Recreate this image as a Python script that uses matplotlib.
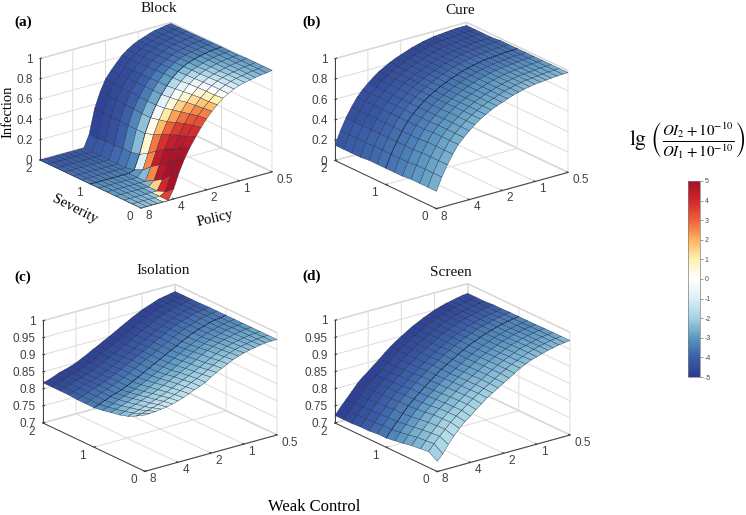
import numpy as np
import matplotlib
matplotlib.use("Agg")
import matplotlib.pyplot as plt
from matplotlib.cm import ScalarMappable
from matplotlib.colors import LinearSegmentedColormap, Normalize
from mpl_toolkits.mplot3d import proj3d

plt.rcParams['mathtext.fontset'] = 'stix'
plt.rcParams['font.family'] = 'Liberation Sans'
plt.rcParams['axes.unicode_minus'] = False

POLICY = [8, 7.13, 6.35, 5.66, 5.04, 4.49, 4, 3.56, 3.17, 2.83, 2.52, 2.24, 2, 1.78, 1.59, 1.41, 1.26, 1.12, 1, 0.89, 0.79, 0.71, 0.63, 0.56, 0.5]
SEVERITY = [0, 0.17, 0.33, 0.5, 0.67, 0.83, 1, 1.17, 1.33, 1.5, 1.67, 1.83, 2]
POLICY_TICKS = [8, 4, 2, 1, 0.5]
POLICY_LABELS = ['8', '4', '2', '1', '0.5']
SEVERITY_TICKS = [0, 1, 2]
SEVERITY_LABELS = ['0', '1', '2']
Z_TICKS_TOP = [0, 0.2, 0.4, 0.6, 0.8, 1]
Z_LABELS_TOP = ['0', '0.2', '0.4', '0.6', '0.8', '1']
Z_TICKS_BOTTOM = [0.7, 0.75, 0.8, 0.85, 0.9, 0.95, 1]
Z_LABELS_BOTTOM = ['0.7', '0.75', '0.8', '0.85', '0.9', '0.95', '1']
CBAR_TICKS = [5, 4, 3, 2, 1, 0, -1, -2, -3, -4, -5]

# infection, one row per severity, one column per policy
BLOCK_Z = [
    [0, 0, 0, 0, 0, 0, .10, .25, .37, .465, .55, .63, .70, .76, .81, .86, .89, .92, .94, .955, .965, .975, .985, .99, 1],
    [0, 0, 0, 0, 0, 0, .03, .18, .31, .42, .52, .61, .69, .75, .80, .85, .89, .92, .94, .955, .965, .975, .985, .99, 1],
    [0, 0, 0, 0, 0, 0, 0, .10, .25, .37, .49, .59, .67, .74, .80, .85, .89, .92, .94, .955, .965, .975, .985, .99, 1],
    [0, 0, 0, 0, 0, 0, 0, .05, .19, .33, .46, .56, .65, .73, .79, .845, .885, .915, .935, .95, .965, .975, .985, .99, 1],
    [0, 0, 0, 0, 0, 0, 0, 0, .13, .27, .42, .53, .63, .71, .78, .84, .88, .91, .935, .95, .965, .975, .985, .99, .995],
    [0, 0, 0, 0, 0, 0, 0, 0, .06, .21, .38, .51, .61, .70, .77, .83, .875, .91, .93, .95, .965, .975, .985, .99, .995],
    [0, 0, 0, 0, 0, 0, 0, 0, .02, .16, .35, .49, .60, .69, .76, .825, .87, .905, .93, .95, .965, .975, .985, .99, .995],
    [0, 0, 0, 0, 0, 0, 0, 0, 0, .14, .35, .49, .60, .69, .76, .825, .87, .905, .93, .95, .963, .973, .983, .988, .994],
    [0, 0, 0, 0, 0, 0, 0, 0, 0, .14, .35, .50, .60, .69, .755, .82, .865, .90, .925, .948, .96, .971, .981, .987, .993],
    [0, 0, 0, 0, 0, 0, 0, 0, 0, .13, .355, .50, .61, .69, .755, .815, .86, .895, .92, .945, .958, .97, .98, .986, .992],
    [0, 0, 0, 0, 0, 0, 0, 0, 0, .13, .355, .505, .61, .69, .75, .81, .855, .89, .915, .94, .955, .968, .978, .985, .991],
    [0, 0, 0, 0, 0, 0, 0, 0, 0, .12, .36, .51, .62, .69, .75, .81, .85, .885, .91, .935, .952, .966, .976, .985, .99],
    [0, 0, 0, 0, 0, 0, 0, 0, 0, .12, .36, .51, .62, .69, .75, .81, .85, .885, .91, .93, .95, .965, .975, .985, .99],
]
CURE_FRONT = [.17, .295, .40, .49, .57, .625, .675, .72, .76, .79, .82, .845, .865, .885, .905, .92, .935, .945, .955, .96, .965, .97, .975, .978, .98]
CURE_MID = [.16, .285, .39, .48, .56, .62, .67, .715, .755, .785, .815, .84, .865, .885, .905, .92, .935, .945, .955, .96, .965, .97, .975, .975, .98]
CURE_BACK = [.15, .28, .39, .48, .56, .62, .67, .715, .755, .785, .815, .84, .86, .88, .90, .915, .93, .94, .95, .955, .96, .965, .97, .97, .97]
CURE_Z = [CURE_FRONT] * 4 + [CURE_MID] * 5 + [CURE_BACK] * 4
ISOLATION_S2 = [.818, .822, .828, .835, .839, .844, .85, .858, .866, .875, .883, .892, .90, .909, .918, .927, .936, .944, .952, .958, .964, .97, .973, .976, .979]
ISOLATION_S1 = [.816, .821, .828, .835, .84, .846, .853, .861, .869, .878, .887, .896, .904, .913, .922, .93, .939, .947, .955, .961, .966, .972, .975, .977, .98]
ISOLATION_Z = [
    [.865, .866, .867, .869, .871, .875, .88, .885, .892, .899, .905, .912, .923, .932, .94, .948, .956, .962, .967, .971, .974, .977, .979, .98, .98],
    [.85, .853, .857, .861, .866, .871, .876, .882, .889, .896, .904, .911, .919, .928, .937, .946, .953, .96, .965, .97, .973, .976, .978, .98, .98],
    [.838, .843, .848, .853, .859, .865, .871, .878, .885, .893, .90, .908, .916, .924, .933, .942, .95, .957, .963, .968, .971, .975, .977, .979, .98],
    [.83, .836, .842, .848, .854, .86, .866, .873, .881, .889, .897, .905, .913, .921, .93, .94, .948, .955, .961, .966, .97, .974, .977, .979, .98],
    [.825, .83, .836, .842, .848, .854, .86, .868, .876, .884, .892, .90, .909, .918, .926, .936, .944, .951, .958, .963, .968, .973, .976, .978, .98],
    [.82, .825, .831, .838, .844, .85, .856, .864, .872, .881, .889, .898, .906, .915, .924, .933, .941, .949, .956, .962, .967, .972, .975, .978, .98],
    ISOLATION_S1, ISOLATION_S1, ISOLATION_S1,
    ISOLATION_S2, ISOLATION_S2, ISOLATION_S2, ISOLATION_S2,
]
SCREEN_S1 = [.727, .747, .766, .785, .803, .818, .832, .846, .859, .871, .883, .893, .903, .913, .922, .931, .938, .945, .952, .957, .962, .966, .97, .973, .975]
SCREEN_MID = [.724, .744, .763, .782, .80, .815, .828, .842, .855, .868, .88, .891, .901, .911, .921, .93, .937, .944, .951, .956, .961, .965, .968, .971, .974]
SCREEN_S2 = [.722, .742, .76, .778, .797, .812, .824, .838, .851, .865, .878, .89, .90, .91, .92, .928, .936, .943, .95, .955, .96, .963, .967, .97, .972]
SCREEN_Z = [
    [.73, .747, .77, .79, .808, .824, .835, .85, .862, .875, .885, .895, .905, .915, .925, .935, .943, .95, .955, .96, .965, .968, .972, .974, .976],
    [.746, .765, .782, .798, .814, .828, .84, .853, .865, .876, .886, .896, .906, .916, .925, .934, .941, .948, .955, .96, .965, .968, .972, .974, .976],
    [.743, .762, .78, .797, .813, .827, .839, .852, .864, .875, .886, .896, .906, .916, .925, .934, .941, .948, .955, .96, .964, .968, .972, .974, .976],
    [.74, .76, .777, .795, .812, .826, .838, .851, .863, .875, .885, .895, .905, .915, .924, .933, .94, .947, .954, .959, .964, .968, .971, .974, .976],
    [.735, .755, .773, .791, .808, .822, .836, .849, .861, .873, .884, .894, .904, .914, .923, .932, .939, .946, .953, .958, .963, .967, .971, .973, .975],
    [.731, .751, .77, .788, .805, .82, .834, .847, .86, .872, .883, .893, .903, .913, .922, .931, .938, .945, .952, .957, .962, .966, .97, .973, .975],
    SCREEN_S1, SCREEN_S1, SCREEN_MID, SCREEN_MID, SCREEN_S2, SCREEN_S2, SCREEN_S2,
]

# colour value lg(...), one row per severity strip, one column per policy strip
BLOCK_C = [
    [-2.3, -2.3, -2.3, -2.2, 0.5, 3.5, 4.9, 4.9, 4.8, 4.4, 3.9, 3.3, 2.6, 1.8, 1.0, 0.1, -0.7, -1.2, -1.6, -1.9, -2.2, -2.4, -2.6, -2.7],
    [-2.5, -2.5, -2.5, -2.4, -2.2, 1.0, 4.0, 4.9, 4.8, 4.5, 3.9, 3.2, 2.5, 1.7, 0.9, 0.0, -0.8, -1.3, -1.7, -2.0, -2.3, -2.5, -2.6, -2.8],
    [-2.7, -2.7, -2.7, -2.7, -2.7, -2.4, 1.5, 4.6, 4.7, 4.3, 3.6, 2.8, 2.1, 1.3, 0.5, -0.3, -1.0, -1.5, -1.9, -2.2, -2.4, -2.6, -2.7, -2.9],
    [-2.9, -2.9, -2.9, -2.9, -2.9, -2.9, -2.5, 2.5, 4.3, 3.8, 3.0, 2.2, 1.5, 0.7, 0.0, -0.7, -1.3, -1.8, -2.1, -2.4, -2.6, -2.7, -2.9, -3.0],
    [-3.0, -3.0, -3.0, -3.0, -3.0, -3.0, -2.8, -2.4, 2.5, 2.7, 1.9, 1.1, 0.5, -0.2, -0.8, -1.3, -1.8, -2.2, -2.4, -2.6, -2.8, -2.9, -3.0, -3.1],
    [-3.2, -3.2, -3.2, -3.2, -3.2, -3.2, -3.2, -3.0, -1.0, 0.6, 0.3, -0.3, -0.8, -1.3, -1.7, -2.1, -2.4, -2.6, -2.8, -2.9, -3.0, -3.1, -3.2, -3.3],
    [-3.4, -3.4, -3.4, -3.4, -3.4, -3.4, -3.4, -3.4, -3.3, -2.4, -2.3, -2.5, -2.7, -2.8, -2.9, -3.0, -3.1, -3.2, -3.3, -3.3, -3.4, -3.4, -3.5, -3.5],
    [-3.6, -3.6, -3.6, -3.6, -3.6, -3.6, -3.6, -3.6, -3.6, -3.3, -3.3, -3.4, -3.5, -3.5, -3.5, -3.6, -3.6, -3.6, -3.6, -3.6, -3.6, -3.6, -3.7, -3.7],
    [-3.7, -3.7, -3.7, -3.7, -3.7, -3.7, -3.7, -3.7, -3.8, -4.0, -4.0, -4.0, -4.0, -4.0, -3.9, -3.9, -3.9, -3.9, -3.8, -3.8, -3.8, -3.8, -3.8, -3.8],
    [-3.9, -3.9, -3.9, -3.9, -3.9, -3.9, -3.9, -3.9, -4.0, -4.4, -4.4, -4.4, -4.3, -4.3, -4.2, -4.2, -4.1, -4.1, -4.0, -4.0, -4.0, -3.9, -3.9, -3.9],
    [-4.0, -4.0, -4.0, -4.0, -4.0, -4.0, -4.0, -4.0, -4.1, -4.6, -4.6, -4.6, -4.5, -4.5, -4.4, -4.3, -4.3, -4.2, -4.2, -4.1, -4.1, -4.0, -4.0, -4.0],
    [-4.1, -4.1, -4.1, -4.1, -4.1, -4.1, -4.1, -4.1, -4.2, -4.7, -4.7, -4.7, -4.6, -4.5, -4.5, -4.4, -4.4, -4.3, -4.3, -4.2, -4.2, -4.1, -4.1, -4.0],
]
CURE_C = [
    [-2.6] * 16 + [-2.5] * 8,
    [-2.8] * 16 + [-2.7] * 8,
    [-3.0] * 14 + [-2.9] * 10,
    [-3.2] * 12 + [-3.1] * 12,
    [-3.4] * 24,
    [-3.6] * 24,
    [-3.7] * 24,
    [-3.8] * 2 + [-3.9] * 22,
    [-3.9] * 2 + [-4.0] * 6 + [-4.1] * 10 + [-4.0] * 6,
    [-4.0] * 2 + [-4.2] * 20 + [-4.1] * 2,
    [-4.1] * 2 + [-4.3] * 4 + [-4.4] * 12 + [-4.3] * 6,
    [-4.2] * 2 + [-4.4] * 4 + [-4.6] * 12 + [-4.4] * 6,
]
ISOLATION_C = [
    [-1.7, -1.5, -1.4, -1.3, -1.3, -1.4, -1.5, -1.6, -1.6, -1.7, -1.8, -1.8, -1.9, -2.0, -2.0, -2.1, -2.2, -2.3, -2.3, -2.4, -2.4, -2.5, -2.5, -2.5],
    [-2.0, -1.8, -1.7, -1.6, -1.6, -1.7, -1.8, -1.8, -1.9, -1.9, -2.0, -2.1, -2.1, -2.2, -2.3, -2.3, -2.4, -2.4, -2.5, -2.5, -2.6, -2.6, -2.6, -2.7],
    [-2.3, -2.1, -2.0, -2.0, -2.0, -2.0, -2.1, -2.1, -2.2, -2.2, -2.3, -2.3, -2.4, -2.4, -2.5, -2.5, -2.6, -2.6, -2.7, -2.7, -2.7, -2.8, -2.8, -2.8],
    [-2.6, -2.4, -2.3, -2.3, -2.3, -2.3, -2.4, -2.4, -2.5, -2.5, -2.6, -2.6, -2.6, -2.7, -2.7, -2.8, -2.8, -2.8, -2.9, -2.9, -2.9, -3.0, -3.0, -3.0],
    [-2.9, -2.8, -2.7, -2.7, -2.7, -2.7, -2.7, -2.7, -2.8, -2.8, -2.8, -2.9, -2.9, -2.9, -3.0, -3.0, -3.0, -3.1, -3.1, -3.1, -3.2, -3.2, -3.2, -3.2],
    [-3.2] * 6 + [-3.1] * 6 + [-3.2] * 6 + [-3.3] * 6,
    [-3.5] * 4 + [-3.4] * 8 + [-3.5] * 12,
    [-3.7] * 24,
    [-4.0] * 24,
    [-4.2] * 24,
    [-4.5] * 24,
    [-4.7] * 20 + [-4.6] * 4,
]
SCREEN_C = [
    [-2.0, -1.8, -1.7, -1.7, -1.8, -1.9, -1.9, -2.0, -2.0, -2.1, -2.1, -2.2, -2.2, -2.3, -2.3, -2.3, -2.4, -2.4, -2.4, -2.5, -2.5, -2.5, -2.5, -2.5],
    [-2.2, -2.1, -2.0, -2.0, -2.0, -2.1, -2.1, -2.2, -2.2, -2.3, -2.3, -2.4, -2.4, -2.5, -2.5, -2.5, -2.6, -2.6, -2.6, -2.7, -2.7, -2.7, -2.7, -2.7],
    [-2.5, -2.4, -2.3, -2.3, -2.3, -2.4, -2.4, -2.4, -2.5, -2.5, -2.5, -2.6, -2.6, -2.6, -2.7, -2.7, -2.7, -2.8, -2.8, -2.8, -2.9, -2.9, -2.9, -2.9],
    [-2.7, -2.6, -2.6, -2.6, -2.6, -2.6, -2.6, -2.6, -2.7, -2.7, -2.7, -2.8, -2.8, -2.8, -2.9, -2.9, -2.9, -3.0, -3.0, -3.0, -3.0, -3.1, -3.1, -3.1],
    [-3.0, -2.9, -2.9, -2.9, -2.9, -2.9, -2.9, -2.9, -2.9, -3.0, -3.0, -3.0, -3.0, -3.1, -3.1, -3.1, -3.1, -3.2, -3.2, -3.2, -3.2, -3.3, -3.3, -3.3],
    [-3.3] * 24,
    [-3.6] * 2 + [-3.5] * 22,
    [-3.8] * 24,
    [-4.1] * 2 + [-4.0] * 22,
    [-4.3] * 24,
    [-4.6] * 6 + [-4.5] * 14 + [-4.4] * 4,
    [-4.8] * 6 + [-4.7] * 14 + [-4.5] * 4,
]

cmap = LinearSegmentedColormap.from_list('lg', [
    '#2b3a8f', '#3b5fa8', '#5b98c2', '#a3d3e3', '#dcf0f5', '#ffffff',
    '#fdf3b0', '#fdb45f', '#ee6238', '#d2262c', '#a50f26'])
norm = Normalize(-5, 5)

W, H = 746, 515
fig = plt.figure(figsize=(W / 100, H / 100), dpi=100)

xpos = np.log2(8 / np.array(POLICY))
ypos = np.array(SEVERITY)
X, Y = np.meshgrid(xpos, ypos)


def panel(Z, C, zlim, zticks, zlabels, title, tag, left, right, title_xy, tag_xy):
    ax = fig.add_axes([0.1, 0.1, 0.4, 0.4 * W / H], projection='3d')
    ax.set_proj_type('ortho')
    ax.view_init(elev=21.2, azim=-127.3)
    ax.set_box_aspect((165, 167, 109))
    ax.computed_zorder = False
    ax.patch.set_alpha(0)

    Z = np.array(Z)
    ax.plot_surface(X, Y, Z, facecolors=cmap(norm(np.array(C))), rstride=1, cstride=1,
                    shade=False, edgecolor='#20203a', linewidth=0.25, zorder=1)
    ax.plot(xpos, np.ones(len(xpos)), Z[SEVERITY.index(1)], color='black',
            lw=0.5, ls=(0, (1.5, 1.5)), zorder=2)

    ax.set_xlim(0, 4)
    ax.set_ylim(0, 2)
    ax.set_zlim(*zlim)
    ax.set_xticks(np.log2(8 / np.array(POLICY_TICKS)))
    ax.set_xticklabels(POLICY_LABELS, ha='left', va='center_baseline')
    ax.set_yticks(SEVERITY_TICKS)
    ax.set_yticklabels(SEVERITY_LABELS, va='baseline')
    ax.set_zticks(zticks)
    ax.set_zticklabels(zlabels, ha='right', va='center_baseline')
    ax.tick_params(labelsize=8.5, colors='#404040', length=2)
    ax.tick_params(axis='x', pad=-4)
    ax.tick_params(axis='y', pad=0)
    ax.tick_params(axis='z', pad=-5)
    for a in (ax.xaxis, ax.yaxis, ax.zaxis):
        a.set_pane_color((1, 1, 1, 1))
        a.pane.set_edgecolor('#d0d0d0')
        a.line.set_color('#404040')
        a.line.set_linewidth(0.7)
        a._axinfo['grid'].update(color='#dcdcdc', linewidth=0.7)
        a._axinfo['tick'].update(inward_factor=0, outward_factor=0.15)

    # move the axes so the floor corners land where they are in the picture
    fig.canvas.draw()
    pts = []
    for c in ((0, 2, zlim[0]), (4, 0, zlim[0])):
        px, py, _ = proj3d.proj_transform(c[0], c[1], c[2], ax.get_proj())
        pts.append(ax.transData.transform((px, py)))
    k = (right[0] - left[0]) / (pts[1][0] - pts[0][0])
    pos = ax.get_position()
    side = pos.width * W * k
    cx, cy = pos.x0 * W + pos.width * W / 2, pos.y0 * H + pos.height * H / 2
    lx = cx + (pts[0][0] - cx) * k
    ly = cy + (pts[0][1] - cy) * k
    cx += left[0] - lx
    cy += (H - left[1]) - ly
    ax.set_position([(cx - side / 2) / W, (cy - side / 2) / H, side / W, side / H])

    fig.text(title_xy[0] / W, 1 - title_xy[1] / H, title, family='Liberation Serif', fontsize=11,
             ha='center', va='center', color='#111111')
    fig.text(tag_xy[0] / W, 1 - tag_xy[1] / H, tag, family='Liberation Serif', fontsize=11,
             fontweight='bold', ha='center', va='center', color='black')
    return ax


panel(BLOCK_Z, BLOCK_C, (0, 1), Z_TICKS_TOP, Z_LABELS_TOP, 'Block', '(a)', (40, 160), (272, 172), (159, 9), (23, 22))
panel(CURE_Z, CURE_C, (0, 1), Z_TICKS_TOP, Z_LABELS_TOP, 'Cure', '(b)', (335, 160.5), (568, 172), (460, 10), (312, 22))
panel(ISOLATION_Z, ISOLATION_C, (0.7, 1), Z_TICKS_BOTTOM, Z_LABELS_BOTTOM, 'Isolation', '(c)', (43, 423), (277, 433), (163, 271), (23, 277))
panel(SCREEN_Z, SCREEN_C, (0.7, 1), Z_TICKS_BOTTOM, Z_LABELS_BOTTOM, 'Screen', '(d)', (335, 423), (570, 433), (451, 273), (312, 276))

fig.text(8 / W, 1 - 112 / H, 'Infection', family='Liberation Serif', fontsize=10.5, rotation=90, ha='center', va='center')
fig.text(75 / W, 1 - 209 / H, 'Severity', family='Liberation Serif', fontsize=10.5, rotation=-27, ha='center', va='center')
fig.text(215 / W, 1 - 218 / H, 'Policy', family='Liberation Serif', fontsize=10.5, rotation=13, ha='center', va='center')
fig.text(314 / W, 1 - 507 / H, 'Weak Control', family='Liberation Serif', fontsize=12, ha='center', va='center')
fig.text(688 / W, 1 - 141 / H, r'$\mathrm{lg}\ \left(\frac{OI_2+10^{-10}}{OI_1+10^{-10}}\right)$',
         fontsize=15.5, ha='center', va='center')

cax = fig.add_axes([688 / W, 1 - 377 / H, 12 / W, 196 / H])
cb = fig.colorbar(ScalarMappable(norm=norm, cmap=cmap), cax=cax)
cb.set_ticks(CBAR_TICKS)
cb.ax.tick_params(labelsize=5, colors='#505050', length=2, width=0.4, pad=1.5)
cb.outline.set_edgecolor('#808080')
cb.outline.set_linewidth(0.5)

fig.savefig('out.png', dpi=100)
